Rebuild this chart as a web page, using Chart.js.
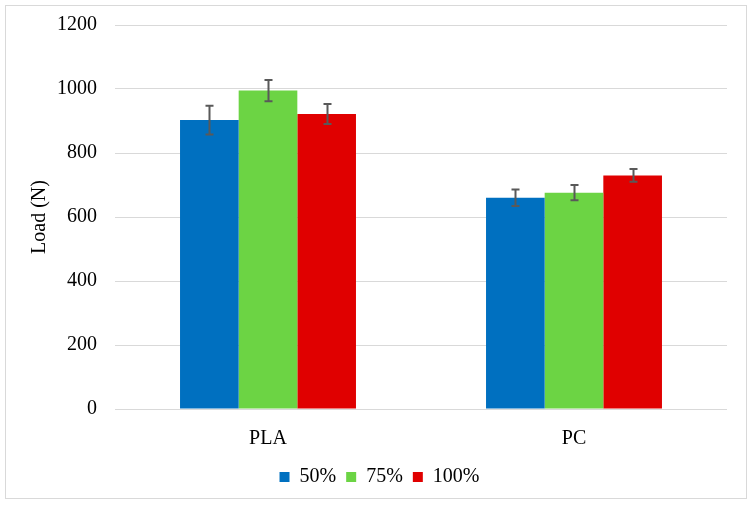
<!DOCTYPE html>
<html>
<head>
<meta charset="utf-8">
<script src="https://cdn.jsdelivr.net/npm/chart.js@4"></script>
<style>
  body { margin: 0; background: #fff; }
  #wrap { width: 753px; height: 507px; }
</style>
</head>
<body>
<div id="wrap"><canvas id="loadChart" width="753" height="507"></canvas></div>
<script>
// data
var categories = ['PLA', 'PC'];
var seriesNames = ['50%', '75%', '100%'];
var load50 = [903, 660];
var load75 = [995, 676];
var load100 = [922, 730];
var err50 = [45, 26];
var err75 = [33, 24];
var err100 = [31, 20];
var yTicks = [0, 200, 400, 600, 800, 1000, 1200];

var colors = ['#0070C0', '#6CD444', '#E00000'];
var serif = "'Liberation Serif', 'Times New Roman', serif";

// outer frame like the exported chart
var framePlugin = {
    id: 'frame',
    beforeDraw: function(chart) {
        var c = chart.ctx;
        c.save();
        c.fillStyle = '#fff';
        c.fillRect(0, 0, chart.width, chart.height);
        c.strokeStyle = '#D9D9D9';
        c.lineWidth = 1;
        c.strokeRect(5.5, 5.5, 741, 493);
        c.restore();
    },
    afterLayout: function(chart) {
        // legend sits a bit right of the plot centre in the original
        chart.legend.left += 16;
        chart.legend.right += 16;
    }
};

// error bars drawn through the y scale
var errorBarPlugin = {
    id: 'errorBars',
    afterDatasetsDraw: function(chart) {
        var c = chart.ctx;
        var y = chart.scales.y;
        c.save();
        c.strokeStyle = '#595959';
        c.lineWidth = 2;
        chart.data.datasets.forEach(function(ds, i) {
            var meta = chart.getDatasetMeta(i);
            meta.data.forEach(function(bar, j) {
                var v = ds.data[j], e = ds.errors[j];
                var top = y.getPixelForValue(v + e);
                var bot = y.getPixelForValue(v - e);
                var x = Math.round(bar.x) + 0.5;
                c.beginPath();
                c.moveTo(x, top); c.lineTo(x, bot);
                c.moveTo(x - 4, top); c.lineTo(x + 4, top);
                c.moveTo(x - 4, bot); c.lineTo(x + 4, bot);
                c.stroke();
            });
        });
        c.restore();
    }
};

var ctx = document.getElementById('loadChart').getContext('2d');
var loadChart = new Chart(ctx, {
    type: 'bar',
    data: {
        labels: categories,
        datasets: [
            { label: seriesNames[0], data: load50, errors: err50, backgroundColor: colors[0] },
            { label: seriesNames[1], data: load75, errors: err75, backgroundColor: colors[1] },
            { label: seriesNames[2], data: load100, errors: err100, backgroundColor: colors[2] }
        ]
    },
    options: {
        responsive: false,
        animation: false,
        devicePixelRatio: 1,
        categoryPercentage: 0.575,
        barPercentage: 1,
        layout: { padding: { top: 25, right: 26, bottom: 10, left: 0 } },
        scales: {
            x: {
                grid: { display: false },
                border: { display: false },
                ticks: { color: '#000', font: { family: serif, size: 20 }, padding: 10 },
                afterFit: function(s) {
                    s.height = 48;
                    s.paddingLeft = 0; s.paddingRight = 0;
                }
            },
            y: {
                min: 0,
                max: 1200,
                afterBuildTicks: function(s) { s.ticks = yTicks.map(function(v) { return { value: v }; }); },
                grid: { color: '#D9D9D9', lineWidth: 1, drawTicks: false },
                border: { display: false },
                ticks: {
                    color: '#000',
                    font: { family: serif, size: 20 },
                    padding: 18,
                    callback: function(v) { return String(v); }
                },
                title: {
                    display: true,
                    text: 'Load (N)',
                    color: '#000',
                    font: { family: serif, size: 20 },
                    padding: { top: 28, bottom: 0 }
                },
                afterFit: function(s) {
                    s.width = 115;
                    s.paddingTop = 0; s.paddingBottom = 0;
                }
            }
        },
        plugins: {
            legend: {
                position: 'bottom',
                labels: {
                    color: '#000',
                    font: { family: serif, size: 20 },
                    boxWidth: 10,
                    boxHeight: 10,
                    padding: 10
                }
            },
            tooltip: { enabled: false }
        }
    },
    plugins: [framePlugin, errorBarPlugin]
});
</script>
</body>
</html>
